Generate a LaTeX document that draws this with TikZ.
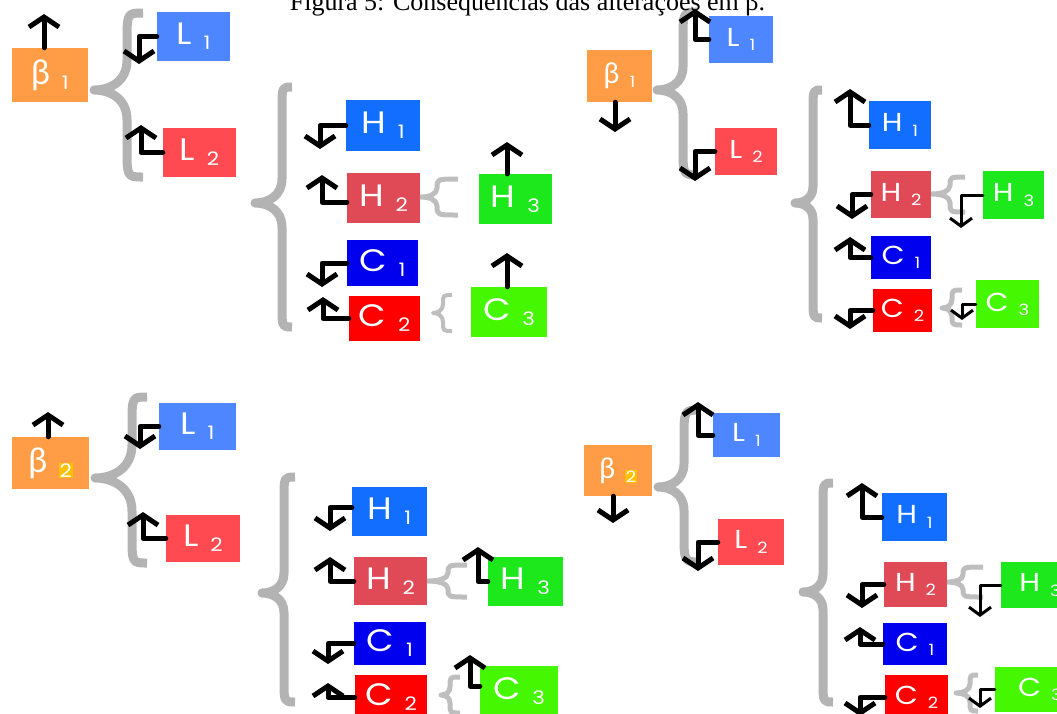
\documentclass[tikz,border=0pt]{standalone}
\usepackage{fontspec}
\usetikzlibrary{arrows.meta}
\setmainfont{Liberation Serif}
\newfontfamily\boxfont{Poppins}[FakeStretch=1.15]
\newfontfamily\grkfont{Lato}

\definecolor{orng}{HTML}{FF9D47}
\definecolor{lblue}{HTML}{4D86FF}
\definecolor{lred}{HTML}{FF4A52}
\definecolor{hblue}{HTML}{126EFF}
\definecolor{hred}{HTML}{E04A57}
\definecolor{hgreen}{HTML}{1CE81C}
\definecolor{cblue}{HTML}{0000EE}
\definecolor{cred}{HTML}{FF0000}
\definecolor{cgreen}{HTML}{45F700}
\definecolor{bracegray}{HTML}{B3B3B3}
\definecolor{minigray}{HTML}{BEBEBE}
\definecolor{hilite}{HTML}{FFC000}

% letter with a lowered, smaller index
\newcommand{\lab}[2]{#1\kern.38em\raisebox{-.16em}{\scalebox{.6}{#2}}}
\newcommand{\bt}{{\grkfont\scalebox{1.1}{β}}}
\newcommand{\hlt}[1]{{\setlength{\fboxsep}{0.8pt}\colorbox{hilite}{#1}}}

% curly brace: [style]{x of ends}{x of spine}{x of tip}{y top}{y tip}{y bottom}
\newcommand{\curly}[7][]{%
  \pgfmathsetmacro\brD{min(1.6*(#2-#3)+4,0.25*(#7-#5))}%
  \pgfmathsetmacro\brE{min(0.9*(#3-#4),0.25*(#7-#5))}%
  \pgfmathsetmacro\brM{0.5*(#3+#4)}%
  \draw[bracestroke,#1] (#2,#5) .. controls (#3,#5) .. (#3,#5+\brD)
    -- (#3,#6-\brE) .. controls (#3,#6-0.3*\brE) and (\brM,#6) .. (#4,#6)
    .. controls (\brM,#6) and (#3,#6+0.3*\brE) .. (#3,#6+\brE)
    -- (#3,#7-\brD) .. controls (#3,#7) .. (#2,#7);}

\tikzset{
  bracestroke/.style={draw=bracegray, line width=9pt, line join=round},
  minibrace/.style={draw=minigray, line width=5pt},
  box/.style={inner sep=0pt, text=white, font=\boxfont\fontsize{31}{31}\selectfont},
  boxR/.style={box, font=\boxfont\fontsize{26}{26}\selectfont},
  flow/.style={line width=5pt, line cap=round, line join=round,
    -{Straight Barb[length=10pt,width=30pt,line width=5pt]}},
  thinflow/.style={line width=3pt, line cap=round, line join=round,
    -{Straight Barb[length=8pt,width=22pt,line width=3pt]}},
}

\begin{document}
\begin{tikzpicture}[x=1pt,y=-1pt]
\useasboundingbox (0,0) rectangle (1057,713);
\clip (0,0) rectangle (1057,713);

% ---------- braces ----------
\curly{143}{127}{94}{13}{90}{177}
\curly{292}{282}{255}{87}{203}{327}
\curly[minibrace]{458}{437}{421}{179}{197}{215}
\curly[minibrace,line width=4pt]{452}{443}{433}{295}{313}{331}

\curly{698}{683}{657}{12}{90}{175}
\curly{822}{813}{795}{90}{203}{318}
\curly[minibrace]{965}{950}{932}{177}{194}{212}
\curly[minibrace]{962}{952}{942}{290}{308}{325}

\curly{147}{132}{95}{397}{478}{563}
\curly{295}{284}{262}{477}{593}{702}
\curly[minibrace]{467}{448}{428}{565}{581}{597}
\curly[minibrace]{460}{450}{441}{677}{695}{713}

\curly{700}{684}{658}{410}{487}{562}
\curly{833}{823}{803}{483}{592}{702}
\curly[minibrace]{983}{963}{948}{567}{582}{597}
\curly[minibrace]{978}{970}{956}{675}{693}{711}

% ---------- upper left ----------
\node[box, fill=orng,   minimum width=76pt, minimum height=54pt] (tlB)  at (50,75)      {\lab{\bt}{1}};
\node[box, fill=lblue,  minimum width=73pt, minimum height=49pt] (tlL1) at (193.5,36.5) {\lab{L}{1}};
\node[box, fill=lred,   minimum width=73pt, minimum height=49pt] (tlL2) at (199.5,152.5){\lab{L}{2}};
\node[box, fill=hblue,  minimum width=74pt, minimum height=51pt] (tlH1) at (383,125.5)  {\lab{H}{1}};
\node[box, fill=hred,   minimum width=73pt, minimum height=50pt] (tlH2) at (383.5,198)  {\lab{H}{2}};
\node[box, fill=hgreen, minimum width=73pt, minimum height=50pt] (tlH3) at (515.5,199)  {\lab{H}{3}};
\node[box, fill=cblue,  minimum width=71pt, minimum height=46pt] (tlC1) at (382.5,263)  {\lab{C}{1}};
\node[box, fill=cred,   minimum width=71pt, minimum height=45pt] (tlC2) at (384.5,318.5){\lab{C}{2}};
\node[box, fill=cgreen, minimum width=76pt, minimum height=50pt] (tlC3) at (509,312)    {\lab{C}{3}};

\coordinate (tlBe)  at (44,14);
\coordinate (tlL1e) at (139,64);
\coordinate (tlL2e) at (141,125);
\coordinate (tlH1e) at (320,149);
\coordinate (tlH2e) at (322,175);
\coordinate (tlC1e) at (322,287);
\coordinate (tlC2e) at (323,297);
\coordinate (tlH3e) at (507,142);
\coordinate (tlC3e) at (507,253);
\draw[flow] ([xshift=-6pt]tlB.north) -- (tlBe);
\draw[flow] (tlL1.west) -| (tlL1e);
\draw[flow] (tlL2.west) -| (tlL2e);
\draw[flow] (tlH1.west) -| (tlH1e);
\draw[flow] ([yshift=-4pt]tlH2.west) -| (tlH2e);
\draw[flow] (tlC1.west) -| (tlC1e);
\draw[flow] (tlC2.west) -| (tlC2e);
\draw[flow] ([xshift=-8.5pt]tlH3.north) -- (tlH3e);
\draw[flow] ([xshift=-2pt]tlC3.north) -- (tlC3e);

% ---------- upper right ----------
\node[boxR, fill=orng,   minimum width=65pt, minimum height=52pt] (trB)  at (619.5,76)   {\lab{\bt}{1}};
\node[boxR, fill=lblue,  minimum width=64pt, minimum height=47pt] (trL1) at (741,39.5)   {\lab{L}{1}};
\node[boxR, fill=lred,   minimum width=62pt, minimum height=47pt] (trL2) at (746,151.5)  {\lab{L}{2}};
\node[boxR, fill=hblue,  minimum width=62pt, minimum height=48pt] (trH1) at (900,125)    {\lab{H}{1}};
\node[boxR, fill=hred,   minimum width=60pt, minimum height=47pt] (trH2) at (901,194.5)  {\lab{H}{2}};
\node[boxR, fill=hgreen, minimum width=61pt, minimum height=48pt] (trH3) at (1013.5,195) {\lab{H}{3}};
\node[boxR, fill=cblue,  minimum width=60pt, minimum height=43pt] (trC1) at (901,257.5)  {\lab{C}{1}};
\node[boxR, fill=cred,   minimum width=59pt, minimum height=43pt] (trC2) at (902.5,310.5){\lab{C}{2}};
\node[boxR, fill=cgreen, minimum width=63pt, minimum height=48pt] (trC3) at (1007.5,304) {\lab{C}{3}};

\coordinate (trBe)  at (615,132);
\coordinate (trL1e) at (695,9);
\coordinate (trL2e) at (695,181);
\coordinate (trH1e) at (850,89);
\coordinate (trH2e) at (852,219);
\coordinate (trC1e) at (850,237);
\coordinate (trC2e) at (850,329);
\coordinate (trH3e) at (961,228);
\coordinate (trC3e) at (962,320);
\draw[flow] ([xshift=-4.5pt]trB.south) -- (trBe);
\draw[flow] (trL1.west) -| (trL1e);
\draw[flow] (trL2.west) -| (trL2e);
\draw[flow] (trH1.west) -| (trH1e);
\draw[flow] (trH2.west) -| (trH2e);
\draw[flow] (trC1.west) -| (trC1e);
\draw[flow] (trC2.west) -| (trC2e);
\draw[thinflow] (trH3.west) -| (trH3e);
\draw[thinflow] (trC3.west) -| (trC3e);

% ---------- lower left ----------
\node[box, fill=orng,   minimum width=77pt, minimum height=52pt] (blB)  at (50.5,463)   {\lab{\bt}{\hlt{2}}};
\node[box, fill=lblue,  minimum width=77pt, minimum height=47pt] (blL1) at (197.5,426.5){\lab{L}{1}};
\node[box, fill=lred,   minimum width=74pt, minimum height=47pt] (blL2) at (203,538.5)  {\lab{L}{2}};
\node[box, fill=hblue,  minimum width=75pt, minimum height=49pt] (blH1) at (389.5,511.5){\lab{H}{1}};
\node[box, fill=hred,   minimum width=73pt, minimum height=48pt] (blH2) at (390.5,581)  {\lab{H}{2}};
\node[box, fill=hgreen, minimum width=75pt, minimum height=49pt] (blH3) at (525.5,581.5){\lab{H}{3}};
\node[box, fill=cblue,  minimum width=72pt, minimum height=43pt] (blC1) at (390,643.5)  {\lab{C}{1}};
\node[box, fill=cred,   minimum width=72pt, minimum height=45pt] (blC2) at (391,697.5)  {\lab{C}{2}};
\node[box, fill=cgreen, minimum width=78pt, minimum height=50pt] (blC3) at (519,691)    {\lab{C}{3}};

\coordinate (blBe)  at (48,412);
\coordinate (blL1e) at (140,449);
\coordinate (blL2e) at (143,512);
\coordinate (blH1e) at (330,531);
\coordinate (blH2e) at (330,557);
\coordinate (blC1e) at (328,664);
\coordinate (blC2e) at (328,683);
\coordinate (blH3e) at (478,547);
\coordinate (blC3e) at (470,655);
\draw[flow] ([xshift=-2.5pt]blB.north) -- (blBe);
\draw[flow] (blL1.west) -| (blL1e);
\draw[flow] (blL2.west) -| (blL2e);
\draw[flow] ([yshift=4pt]blH1.west) -| (blH1e);
\draw[flow] (blH2.west) -| (blH2e);
\draw[flow] (blC1.west) -| (blC1e);
\draw[flow] (blC2.west) -| (blC2e);
\draw[flow] (blH3.west) -| (blH3e);
\draw[flow] ([yshift=5pt]blC3.west) -| (blC3e);

% ---------- lower right ----------
\node[boxR, fill=orng,   minimum width=68pt, minimum height=51pt] (brB)  at (618,470.5)  {\lab{\bt}{\hlt{2}}};
\node[boxR, fill=lblue,  minimum width=67pt, minimum height=44pt] (brL1) at (746.5,435)  {\lab{L}{1}};
\node[boxR, fill=lred,   minimum width=66pt, minimum height=46pt] (brL2) at (751,542)    {\lab{L}{2}};
\node[boxR, fill=hblue,  minimum width=65pt, minimum height=48pt] (brH1) at (914.5,517)  {\lab{H}{1}};
\node[boxR, fill=hred,   minimum width=63pt, minimum height=45pt] (brH2) at (915.5,584.5){\lab{H}{2}};
\node[boxR, fill=hgreen, minimum width=78pt, minimum height=46pt] (brH3) at (1040,585)   {\lab{H}{3}};
\node[boxR, fill=cblue,  minimum width=64pt, minimum height=42pt] (brC1) at (915,644)    {\lab{C}{1}};
\node[boxR, fill=cred,   minimum width=63pt, minimum height=45pt] (brC2) at (916.5,697.5){\lab{C}{2}};
\node[boxR, fill=cgreen, minimum width=90pt, minimum height=45pt] (brC3) at (1040,689.5) {\lab{C}{3}};

\coordinate (brBe)  at (613,523);
\coordinate (brL1e) at (698,402);
\coordinate (brL2e) at (698,571);
\coordinate (brH1e) at (862,483);
\coordinate (brH2e) at (862,608);
\coordinate (brC1e) at (860,627);
\coordinate (brC2e) at (860,716);
\coordinate (brH3e) at (980,617);
\coordinate (brC3e) at (980,708);
\draw[flow] ([xshift=-5pt]brB.south) -- (brBe);
\draw[flow] (brL1.west) -| (brL1e);
\draw[flow] (brL2.west) -| (brL2e);
\draw[flow] (brH1.west) -| (brH1e);
\draw[flow] (brH2.west) -| (brH2e);
\draw[flow] (brC1.west) -| (brC1e);
\draw[flow] (brC2.west) -| (brC2e);
\draw[thinflow] (brH3.west) -| (brH3e);
\draw[thinflow] (brC3.west) -| (brC3e);

% ---------- caption ----------
\node[anchor=base, inner sep=0pt, font=\fontsize{26}{26}\selectfont] (cap) at (527.5,10)
  {Figura 5: Consequências das alterações em β.};
\end{tikzpicture}
\end{document}
